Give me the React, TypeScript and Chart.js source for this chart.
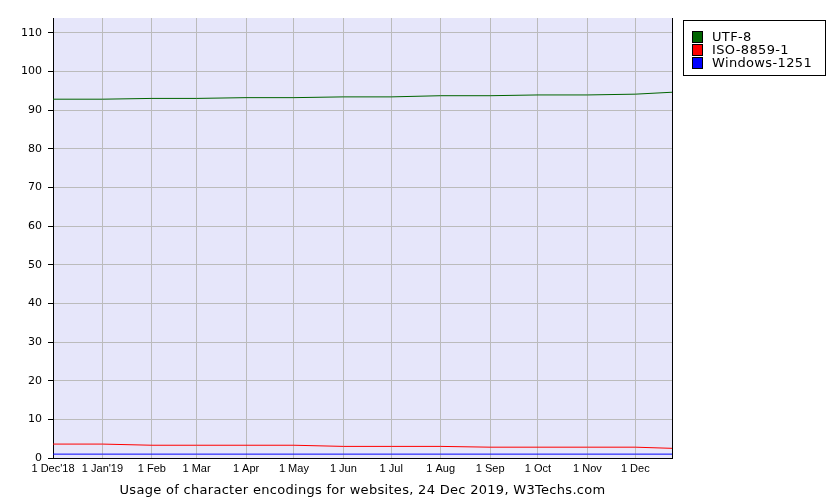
import React, { useEffect, useRef } from "react";
import { Chart, registerables } from "chart.js";

Chart.register(...registerables);

const pointDates = [
  "2018-12-01", "2019-01-01", "2019-02-01", "2019-03-01", "2019-04-01", "2019-05-01", "2019-06-01",
  "2019-07-01", "2019-08-01", "2019-09-01", "2019-10-01", "2019-11-01", "2019-12-01", "2019-12-24",
];
const utf8 = [92.8, 92.8, 93.0, 93.0, 93.2, 93.2, 93.4, 93.4, 93.7, 93.7, 93.9, 93.9, 94.1, 94.6];
const iso88591 = [3.6, 3.6, 3.3, 3.3, 3.3, 3.3, 3.0, 3.0, 3.0, 2.8, 2.8, 2.8, 2.8, 2.5];
const windows1251 = [1.0, 1.0, 1.0, 1.0, 1.0, 1.0, 1.0, 1.0, 1.0, 1.0, 1.0, 1.0, 1.0, 1.0];

const tickDates = [
  "2018-12-01", "2019-01-01", "2019-02-01", "2019-03-01", "2019-04-01", "2019-05-01", "2019-06-01",
  "2019-07-01", "2019-08-01", "2019-09-01", "2019-10-01", "2019-11-01", "2019-12-01",
];
const tickLabels = [
  "1 Dec'18", "1 Jan'19", "1 Feb", "1 Mar", "1 Apr", "1 May", "1 Jun",
  "1 Jul", "1 Aug", "1 Sep", "1 Oct", "1 Nov", "1 Dec",
];
const seriesNames = ["UTF-8", "ISO-8859-1", "Windows-1251"];
const seriesColors = ["#006400", "#ff0000", "#0000ff"];
const titleText = "Usage of character encodings for websites, 24 Dec 2019, W3Techs.com";

const DAY = 86400000;
const startMs = Date.parse("2018-12-01T00:00:00Z");
const dayOf = (d: string) => Math.round((Date.parse(d + "T00:00:00Z") - startMs) / DAY);

export default function App() {
  const ref = useRef<HTMLCanvasElement | null>(null);
  useEffect(() => {
    document.body.style.margin = "0";
    const canvas = ref.current!;
    const xs = pointDates.map(dayOf);
    const tickPos = tickDates.map(dayOf);
    const allSeries = [utf8, iso88591, windows1251];

    const extras = {
      id: "extras",
      beforeDraw(chart: any) {
        const { ctx, chartArea: a } = chart;
        ctx.save();
        ctx.fillStyle = "#e6e6fa";
        ctx.fillRect(a.left, a.top, a.right - a.left, a.bottom - a.top);
        ctx.restore();
      },
      afterDraw(chart: any) {
        const { ctx, chartArea: a } = chart;
        ctx.save();
        // right border
        ctx.strokeStyle = "#000";
        ctx.lineWidth = 1;
        ctx.beginPath();
        ctx.moveTo(Math.round(a.right) + 0.5, a.top);
        ctx.lineTo(Math.round(a.right) + 0.5, a.bottom);
        ctx.stroke();
        // legend box
        ctx.fillStyle = "#fff";
        ctx.fillRect(683.5, 20.5, 142, 55);
        ctx.strokeRect(683.5, 20.5, 142, 55);
        ctx.font = "13px 'DejaVu Sans'";
        ctx.textBaseline = "middle";
        (ctx as any).letterSpacing = "0.35px";
        seriesNames.forEach((n, i) => {
          const y = 31 + i * 13;
          ctx.fillStyle = seriesColors[i];
          ctx.fillRect(692, y, 11, 12);
          ctx.strokeStyle = "#000";
          ctx.strokeRect(692.5, y + 0.5, 10, 11);
          ctx.fillStyle = "#000";
          ctx.fillText(n, 712, y + 6.5);
        });
        // title
        ctx.font = "13px 'DejaVu Sans'";
        (ctx as any).letterSpacing = "0.3px";
        ctx.textAlign = "center";
        ctx.textBaseline = "alphabetic";
        ctx.fillStyle = "#000";
        ctx.fillText(titleText, (a.left + a.right) / 2, 494);
        ctx.restore();
      },
    };

    const chart = new Chart(canvas, {
      type: "line",
      data: {
        datasets: allSeries.map((vals, i) => ({
          label: seriesNames[i],
          data: vals.map((v, j) => ({ x: xs[j], y: v })),
          borderColor: seriesColors[i],
          backgroundColor: seriesColors[i],
          borderWidth: 1,
          pointRadius: 0,
          tension: 0,
          fill: false,
        })),
      },
      options: {
        responsive: false,
        animation: false,
        events: [],
        layout: { padding: { left: 0, top: 18, right: 167, bottom: 0 } },
        plugins: { legend: { display: false }, title: { display: false }, tooltip: { enabled: false } },
        scales: {
          x: {
            type: "linear",
            min: 0,
            max: dayOf("2019-12-24"),
            afterBuildTicks: (s: any) => {
              s.ticks = tickPos.map((v) => ({ value: v }));
            },
            afterFit: (s: any) => {
              s.height = 45;
            },
            ticks: {
              autoSkip: false,
              maxRotation: 0,
              padding: 4,
              color: "#000",
              font: { family: "'Liberation Sans', Arial", size: 11 },
              callback: (v: any) => {
                const i = tickPos.indexOf(Number(v));
                return i >= 0 ? tickLabels[i] : "";
              },
            },
            grid: { color: "#bbbbbb", drawTicks: false, tickLength: 0 },
            border: { color: "#000", width: 1 },
          },
          y: {
            min: 0,
            max: 113.8,
            afterBuildTicks: (s: any) => {
              s.ticks = [0, 10, 20, 30, 40, 50, 60, 70, 80, 90, 100, 110].map((v) => ({ value: v }));
            },
            afterFit: (s: any) => {
              s.width = 53;
            },
            ticks: {
              padding: 6,
              color: "#000",
              font: { family: "'DejaVu Sans'", size: 11 },
            },
            grid: { color: "#bbbbbb", tickColor: "#000", tickLength: 5, drawTicks: true },
            border: { color: "#000", width: 1 },
          },
        },
      },
      plugins: [extras],
    });
    return () => chart.destroy();
  }, []);
  return <canvas ref={ref} width={839} height={503} style={{ display: "block" }} />;
}
